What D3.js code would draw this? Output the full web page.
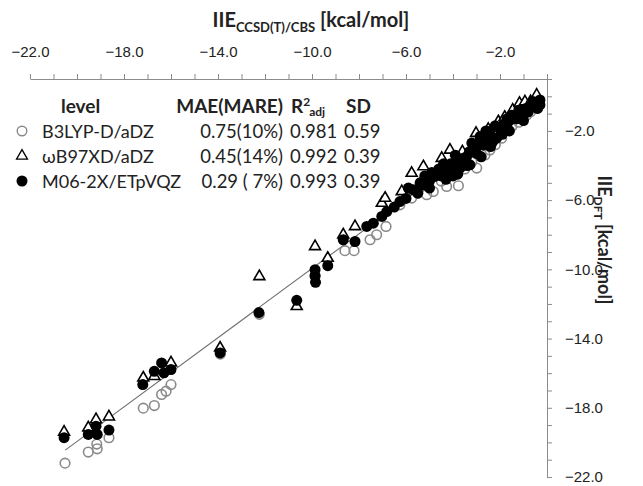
<!DOCTYPE html>
<html>
<head>
<meta charset="utf-8">
<script src="https://cdn.jsdelivr.net/npm/d3@7"></script>
<style>
  body { margin: 0; background: #fff; }
  svg { font-family: Lato, "Open Sans", sans-serif; }
  .axis path, .axis line { stroke: #8c8c8c; }
  .axis text { font-size: 15px; fill: #222; }
</style>
</head>
<body>
<script>
const width = 643,
    height = 486;

// [IIE CCSD(T)/CBS, IIE DFT] in kcal/mol
const b3lyp = [
  [-20.51, -21.2], [-19.52, -20.56], [-19.14, -20.37], [-19.16, -20.1], [-18.64, -19.73],
  [-17.18, -18.02], [-16.71, -17.87], [-16.4, -17.23], [-16.21, -17.04], [-16.0, -16.66],
  [-13.9, -14.9], [-12.24, -12.6], [-9.87, -10.4],
  [-8.6, -8.92], [-8.21, -8.92], [-7.53, -8.29], [-7.25, -8.0], [-6.85, -7.52], [-6.26, -6.27],
  [-5.76, -5.88], [-5.5, -5.6], [-5.12, -5.69], [-4.84, -5.5], [-4.5, -4.9], [-4.27, -5.21],
  [-3.77, -5.17], [-3.5, -4.2], [-3.2, -3.8], [-2.99, -4.15], [-2.64, -3.39], [-2.43, -3.1],
  [-2.2, -2.8], [-1.93, -2.42], [-1.5, -1.75], [-1.2, -1.5], [-0.86, -1.08], [-0.7, -0.9], [-0.44, -0.69]
];

const wb97xd = [
  [-20.55, -19.4], [-19.52, -19.15], [-19.19, -18.68], [-18.64, -18.52], [-17.18, -16.27],
  [-16.71, -16.18], [-16.0, -15.4], [-13.91, -14.54], [-12.24, -10.41], [-10.65, -12.14],
  [-9.87, -8.68], [-9.33, -9.35], [-8.67, -8.0], [-8.17, -7.52], [-7.03, -6.17], [-6.89, -5.88],
  [-6.18, -5.5], [-5.76, -4.44], [-5.26, -4.06], [-4.48, -3.58], [-4.13, -3.1], [-3.6, -3.2],
  [-3.02, -2.13], [-2.5, -1.9], [-2.07, -1.46], [-1.8, -1.2], [-1.46, -0.79], [-1.17, -0.4],
  [-0.94, -0.31], [-0.7, -0.3], [-0.44, 0.08]
];

const m062x = [
  [-20.55, -19.73], [-19.52, -19.54], [-19.14, -19.54], [-19.19, -19.06], [-18.64, -19.29],
  [-17.2, -16.66], [-16.71, -15.89], [-16.4, -15.41], [-16.3, -15.98], [-16.0, -15.79],
  [-13.91, -14.83], [-12.26, -12.5], [-10.65, -11.79], [-9.87, -10.02], [-9.87, -10.37],
  [-9.85, -10.75], [-9.33, -9.79], [-8.67, -8.29], [-8.17, -8.39], [-7.67, -7.52], [-7.39, -7.33],
  [-7.03, -6.94], [-6.82, -6.66], [-6.5, -6.4], [-6.26, -6.08], [-6.0, -5.9], [-5.9, -5.3],
  [-5.69, -5.4], [-5.5, -5.6], [-5.4, -5.0], [-5.26, -5.12], [-5.2, -4.6], [-5.0, -4.9],
  [-5.0, -5.3], [-4.9, -4.4], [-4.77, -4.63], [-4.6, -4.2], [-4.5, -4.6], [-4.4, -3.9],
  [-4.3, -4.8], [-4.27, -4.35], [-4.1, -3.9], [-4.0, -4.2], [-4.0, -4.6], [-3.9, -3.4],
  [-3.84, -3.87], [-3.8, -4.5], [-3.7, -4.15], [-3.6, -3.6], [-3.5, -3.7], [-3.42, -3.48],
  [-3.4, -4.0], [-3.3, -3.2], [-3.28, -3.96], [-3.2, -2.7], [-3.14, -3.1], [-3.0, -3.3],
  [-2.9, -2.8], [-2.85, -2.33], [-2.8, -3.5], [-2.71, -2.81], [-2.6, -2.5], [-2.6, -2.0],
  [-2.5, -2.2], [-2.43, -2.04], [-2.4, -2.9], [-2.3, -2.6], [-2.2, -1.7], [-2.14, -2.42],
  [-2.0, -1.9], [-1.9, -2.2], [-1.86, -1.65], [-1.7, -1.8], [-1.7, -1.3], [-1.6, -1.4],
  [-1.6, -2.0], [-1.5, -1.1], [-1.43, -1.17], [-1.3, -1.3], [-1.2, -0.8], [-1.15, -0.88],
  [-1.0, -1.1], [-1.0, -1.4], [-0.9, -0.7], [-0.8, -0.9], [-0.72, -0.59], [-0.6, -0.3],
  [-0.5, -0.4], [-0.4, -0.7], [-0.3, -0.21], [-0.3, -0.5]
];

const fitLine = [[-20.5, -20.45], [-0.4, -0.35]];

const tickLabels = [-22, -18, -14, -10, -6, -2];

const legendHead = ["level", "MAE(MARE)", "R", "SD"];
const legendRows = [
  ["B3LYP-D/aDZ", "0.75(10%)", "0.981", "0.59"],
  ["ωB97XD/aDZ", "0.45(14%)", "0.992", "0.39"],
  ["M06-2X/ETpVQZ", "0.29 ( 7%)", "0.993", "0.39"]
];

var svg = d3.select("body").append("svg")
    .attr("width", width)
    .attr("height", height);

var x = d3.scaleLinear().domain([-22, 0]).range([30, 547]);
var y = d3.scaleLinear().domain([-22, 1]).range([477, 79]);

var fmt = d => tickLabels.includes(d) ? d3.format(".1f")(d) : "";

svg.append("g")
    .attr("class", "axis")
    .attr("transform", "translate(0,79)")
    .call(d3.axisTop(x).tickValues(d3.range(-22, 0.5, 1)).tickFormat(fmt).tickSize(5).tickSizeOuter(0).tickPadding(17));

svg.append("g")
    .attr("class", "axis")
    .attr("transform", "translate(547,0)")
    .call(d3.axisRight(y).tickValues(d3.range(-22, 1.5, 1)).tickFormat(fmt).tickSize(5).tickSizeOuter(0).tickPadding(13));

svg.selectAll(".axis text").attr("fill", "#222");

// titles
var tx = svg.append("text")
    .attr("x", 311).attr("y", 27)
    .attr("text-anchor", "middle")
    .attr("font-weight", "bold")
    .attr("font-size", 20)
    .attr("fill", "#222");
tx.append("tspan").text("IIE");
tx.append("tspan").attr("font-size", 13).attr("dy", 5).text("CCSD(T)/CBS");
tx.append("tspan").attr("dy", -5).text(" [kcal/mol]");

var ty = svg.append("text")
    .attr("transform", "translate(598,240) rotate(90)")
    .attr("text-anchor", "middle")
    .attr("font-weight", "bold")
    .attr("font-size", 18)
    .attr("fill", "#222");
ty.append("tspan").text("IIE");
ty.append("tspan").attr("font-size", 12).attr("dy", 4).text("DFT");
ty.append("tspan").attr("dy", -4).text(" [kcal/mol]");

// fit line
svg.append("path")
    .datum(fitLine)
    .attr("fill", "none")
    .attr("stroke", "#6e6e6e")
    .attr("stroke-width", 1.1)
    .attr("d", d3.line().x(d => x(d[0])).y(d => y(d[1])));

var tri = d3.symbol().type(d3.symbolTriangle).size(52);

svg.append("g").selectAll("circle")
    .data(b3lyp)
  .enter().append("circle")
    .attr("cx", d => x(d[0]))
    .attr("cy", d => y(d[1]))
    .attr("r", 4.8)
    .attr("fill", "none")
    .attr("stroke", "#8a8a8a")
    .attr("stroke-width", 1.6);

svg.append("g").selectAll("path")
    .data(wb97xd)
  .enter().append("path")
    .attr("transform", d => "translate(" + x(d[0]) + "," + y(d[1]) + ")")
    .attr("d", tri)
    .attr("fill", "#fff")
    .attr("stroke", "#000")
    .attr("stroke-width", 1.6);

svg.append("g").selectAll("circle")
    .data(m062x)
  .enter().append("circle")
    .attr("cx", d => x(d[0]))
    .attr("cy", d => y(d[1]))
    .attr("r", 5.5)
    .attr("fill", "#000");

// legend table
var head = svg.append("g")
    .attr("font-size", 19)
    .attr("font-weight", "bold")
    .attr("fill", "#222");
head.append("text").attr("x", 61).attr("y", 113).text(legendHead[0]);
head.append("text").attr("x", 283).attr("y", 113).attr("text-anchor", "end").text(legendHead[1]);
var r2 = head.append("text").attr("x", 291).attr("y", 113);
r2.append("tspan").text(legendHead[2]);
r2.append("tspan").attr("font-size", 12).attr("dy", -7).text("2");
r2.append("tspan").attr("font-size", 12).attr("dy", 10).attr("dx", -1).text("adj");
head.append("text").attr("x", 346).attr("y", 113).text(legendHead[3]);

var colX = [42, 283, 290, 344];
var rows = svg.append("g")
    .attr("fill", "#222")
    .selectAll("g")
    .data(legendRows)
  .enter().append("g")
    .attr("transform", (d, i) => "translate(0," + (138 + 25 * i) + ")");

rows.selectAll("text")
    .data(d => d)
  .enter().append("text")
    .attr("x", (d, i) => colX[i])
    .attr("font-size", (d, i) => i == 0 ? 18 : 18.5)
    .attr("text-anchor", (d, i) => i == 1 ? "end" : "start")
    .text(d => d);

var ly = i => 131 + 25 * i;
svg.append("circle").attr("cx", 22).attr("cy", ly(0)).attr("r", 4.8)
    .attr("fill", "none").attr("stroke", "#8a8a8a").attr("stroke-width", 1.4);
svg.append("path").attr("transform", "translate(22," + ly(1) + ")").attr("d", tri)
    .attr("fill", "#fff").attr("stroke", "#000").attr("stroke-width", 1.3);
svg.append("circle").attr("cx", 22).attr("cy", ly(2)).attr("r", 5.5).attr("fill", "#000");
</script>
</body>
</html>
